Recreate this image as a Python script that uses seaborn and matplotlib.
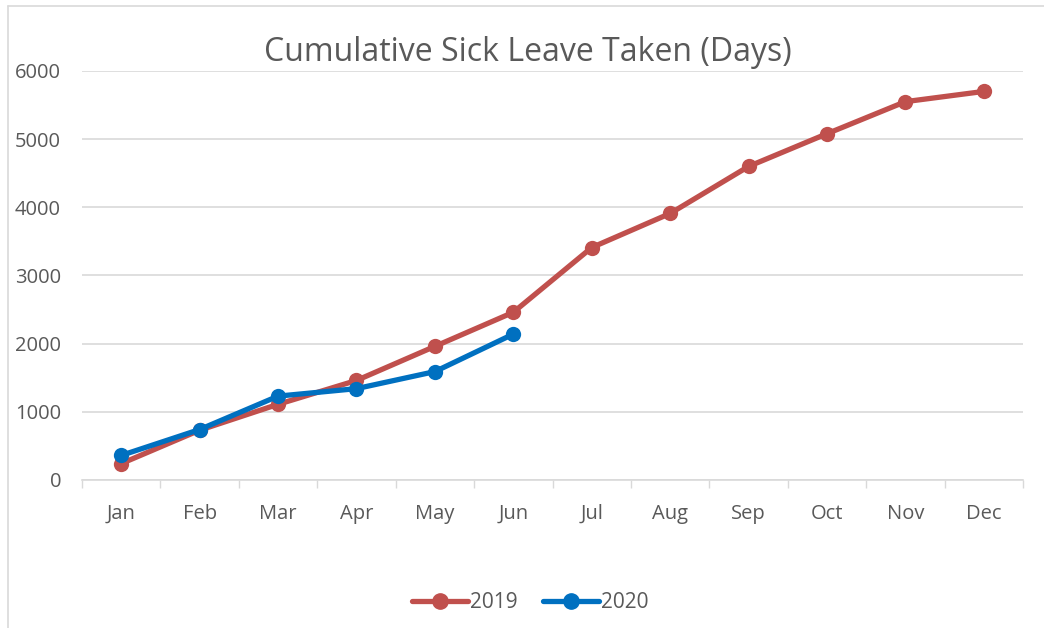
import pandas as pd
import numpy as np
import matplotlib.pyplot as plt
import matplotlib.lines as mlines
import seaborn as sns

# ── Dados ────────────────────────────────────────────────────────────────────
meses = ["Jan", "Feb", "Mar", "Apr", "May", "Jun",
         "Jul", "Aug", "Sep", "Oct", "Nov", "Dec"]
dias_2019 = [240, 730, 1110, 1460, 1960, 2460, 3410, 3910, 4600, 5080, 5550, 5700]
dias_2020 = [360, 740, 1230, 1340, 1590, 2140]
anos = ["2019", "2020"]

COR_2019 = "#C0504D"
COR_2020 = "#0070C0"
CINZA_TXT = "#595959"
CINZA_GRID = "#D9D9D9"

df = pd.concat([
    pd.DataFrame({"mes": np.arange(len(dias_2019)), "dias": dias_2019, "ano": anos[0]}),
    pd.DataFrame({"mes": np.arange(len(dias_2020)), "dias": dias_2020, "ano": anos[1]}),
])

sns.set_theme(style="white")
plt.rcParams["font.family"] = ["Open Sans", "DejaVu Sans"]

fig = plt.figure(figsize=(10.44, 6.28), dpi=100)
ax = fig.add_axes([0.0785, 0.2357, 0.9015, 0.6513])

sns.lineplot(data=df, x="mes", y="dias", hue="ano",
             palette={anos[0]: COR_2019, anos[1]: COR_2020},
             marker="o", markersize=11, markeredgewidth=0, linewidth=3.8,
             legend=False, ax=ax)

ax.set_xlim(-0.5, len(meses) - 0.5)
ax.set_ylim(0, 6000)
ax.set_yticks(range(0, 6001, 1000))
ax.set_xticks(np.arange(len(meses)))
ax.set_xticklabels(meses)
ax.set_xticks(np.arange(-0.5, len(meses)), minor=True)
ax.tick_params(axis="x", which="major", length=0, pad=17, labelsize=14.5, labelcolor=CINZA_TXT)
ax.tick_params(axis="x", which="minor", length=6, width=1, color=CINZA_GRID, bottom=True)
ax.tick_params(axis="y", length=0, pad=15, labelsize=14.5, labelcolor=CINZA_TXT)
ax.set_xlabel("")
ax.set_ylabel("")

ax.grid(axis="y", color=CINZA_GRID, linewidth=1.2)
ax.set_axisbelow(True)
for lado in ["top", "right", "left"]:
    ax.spines[lado].set_visible(False)
ax.spines["bottom"].set_color(CINZA_GRID)
ax.spines["bottom"].set_linewidth(1.2)

fig.text(0.506, 0.917, "Cumulative Sick Leave Taken (Days)", ha="center", va="center",
         fontsize=23, color=CINZA_TXT)

# legenda inferior
h19 = mlines.Line2D([], [], color=COR_2019, marker="o", markersize=11, linewidth=3.8)
h20 = mlines.Line2D([], [], color=COR_2020, marker="o", markersize=11, linewidth=3.8)
fig.legend([h19, h20], anos, loc="center", bbox_to_anchor=(0.508, 0.04), ncol=2,
           frameon=False, fontsize=15, labelcolor=CINZA_TXT, handlelength=2.7,
           handletextpad=0.1, columnspacing=1.2)

# borda da área do gráfico (cortada à direita/baixo)
fig.add_artist(mlines.Line2D([8/1044, 8/1044], [0, 1 - 6/628], transform=fig.transFigure,
                             color=CINZA_GRID, linewidth=1.2))
fig.add_artist(mlines.Line2D([8/1044, 1], [1 - 6/628, 1 - 6/628], transform=fig.transFigure,
                             color=CINZA_GRID, linewidth=1.2))

plt.savefig("out.png", dpi=100)
plt.close()
